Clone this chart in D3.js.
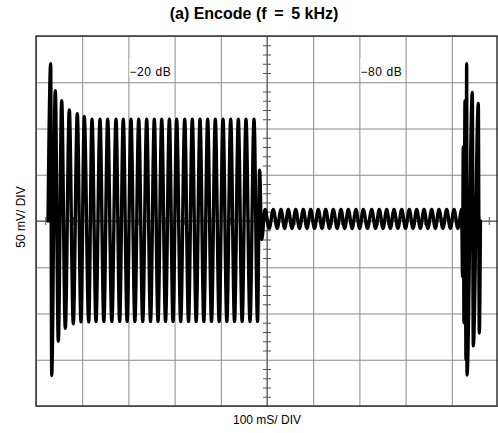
<!DOCTYPE html>
<html lang="en"><head>
<meta charset="utf-8"/>
<title>(a) Encode (f = 5 kHz)</title>
<script src="https://cdn.jsdelivr.net/npm/d3@7/dist/d3.min.js"></script>
<style>
    body { margin: 0; padding: 0; background: #fff; width: 498px; height: 433px; overflow: hidden; }
    svg { display: block; }
    .title { font-family: "Liberation Sans", Arial, sans-serif; font-weight: bold; font-size: 16px; }
    .lbl { font-family: "Liberation Sans", Arial, sans-serif; font-size: 12px; }
    .lvl { font-family: "Liberation Sans", Arial, sans-serif; font-size: 12px; letter-spacing: 0.6px; }
</style>
</head>
<body>
<div id="chart"></div>
<script>
    // scope settings
    const gridTimes = [0, 100, 200, 300, 400, 500, 600, 700, 800, 900, 1000];   // ms, 100 mS/DIV
    const gridVolts = [-200, -150, -100, -50, 0, 50, 100, 150, 200];           // mV, 50 mV/DIV
    const minorTimes = [20, 40, 60, 80, 120, 140, 160, 180, 220, 240, 260, 280, 320, 340, 360, 380,
                        420, 440, 460, 480, 520, 540, 560, 580, 620, 640, 660, 680, 720, 740, 760, 780,
                        820, 840, 860, 880, 920, 940, 960, 980];
    const minorVolts = [-190, -180, -170, -160, -140, -130, -120, -110, -90, -80, -70, -60, -40, -30, -20, -10,
                        10, 20, 30, 40, 60, 70, 80, 90, 110, 120, 130, 140, 160, 170, 180, 190];

    // level annotations
    const levelLabels = ["\u221220 dB", "\u221280 dB"];
    const levelTimes = [200, 700];

    // trace extremes read from the screen (time ms, level mV)
    // onset of the -20 dB burst
    const onsetT = [26, 31.8, 34, 41.8, 48.3, 55.6, 63.4, 72.1, 80.7, 89.4, 97.4, 104.5, 114.1];
    const onsetV = [0, 170, -167, 141, -130, 130, -116, 120, -111, 116, -109, 113, -109];
    // steady -20 dB burst: peaks and troughs
    const burstTopT = [121.2, 138.5, 155.2, 173.2, 188.9, 205.6, 222.3, 239.6, 256.1, 272.1, 288.7,
                       304.5, 321.9, 338.3, 355.0, 371.6, 388.1, 404.8, 421.4, 437.9, 454.5, 471.9];
    const burstBotT = [129.9, 146.9, 164.2, 181.1, 197.3, 214.0, 231.0, 247.9, 264.1, 280.4, 296.6,
                       313.2, 330.1, 346.7, 363.3, 379.9, 396.5, 413.1, 429.7, 446.2, 463.2, 479.5];
    const burstTopV = 110;
    const burstBotV = -108.5;
    // settling into the -80 dB tone
    const settleT = [484, 488.5];
    const settleV = [55, -20];
    // -80 dB tone: peaks and troughs
    const toneTopT = [495.7, 513.6, 530.3, 546.1, 562.1, 578.6, 594.6, 611.0, 627.1, 643.5, 660.2, 676.0,
                      692.6, 708.4, 726.6, 743.1, 759.1, 774.9, 791.6, 808.0, 824.0, 839.8, 856.5, 872.3,
                      889.0, 904.8, 921.4];
    const toneBotT = [504.7, 522.0, 538.2, 554.1, 570.4, 586.6, 602.8, 619.1, 635.3, 651.9, 668.1, 684.3,
                      700.5, 717.5, 734.9, 751.1, 767.0, 783.3, 799.8, 816.0, 831.9, 848.2, 864.4, 880.7,
                      896.9, 913.1];
    const toneTopV = 12.4;
    const toneBotV = -8.1;
    // next -20 dB burst onset at the right edge
    const tailT = [923.2, 924.9, 926.4, 928.6, 930.7, 932.2, 932.9, 944.4, 946.5, 957.4, 959.5, 962];
    const tailV = [-60, 80, -110, 130, -150, 170, -166.5, 139, -135, 127, -121, 0];

    // build the trace in time order
    const trace = [];
    onsetT.forEach((t, i) => trace.push([t, onsetV[i]]));
    burstTopT.forEach((t, i) => {
        trace.push([t, burstTopV]);
        trace.push([burstBotT[i], burstBotV]);
    });
    settleT.forEach((t, i) => trace.push([t, settleV[i]]));
    toneTopT.forEach((t, i) => {
        trace.push([t, toneTopV]);
        if (i < toneBotT.length) trace.push([toneBotT[i], toneBotV]);
    });
    tailT.forEach((t, i) => trace.push([t, tailV[i]]));

    const W = 498, H = 433;
    const pL = 36, pR = 498, pT = 36, pB = 406;

    const svg = d3.select("#chart").append("svg")
        .attr("width", W)
        .attr("height", H);

    const x = d3.scaleLinear().domain([0, 1000]).range([pL, pR]);
    const y = d3.scaleLinear().domain([-200, 200]).range([pB, pT]);

    // title
    svg.append("text")
        .attr("class", "title")
        .attr("x", 254)
        .attr("y", 19)
        .attr("text-anchor", "middle")
        .attr("fill", "#000")
        .text("(a) Encode (f \u2009=\u2009 5 kHz)");

    // grid
    svg.append("g")
        .attr("transform", `translate(0,${pB})`)
        .call(d3.axisBottom(x).tickValues(gridTimes).tickSize(-(pB - pT)).tickFormat(""))
        .call(g => g.select(".domain").remove())
        .call(g => g.selectAll("line").attr("stroke", "#8a8a8a").attr("stroke-width", 1));

    svg.append("g")
        .attr("transform", `translate(${pL},0)`)
        .call(d3.axisLeft(y).tickValues(gridVolts).tickSize(-(pR - pL)).tickFormat(""))
        .call(g => g.select(".domain").remove())
        .call(g => g.selectAll("line").attr("stroke", "#8a8a8a").attr("stroke-width", 1));

    // centre axes with minor ticks
    const cx = x(500), cy = y(0);
    [d3.axisLeft, d3.axisRight].forEach(ax => {
        svg.append("g")
            .attr("transform", `translate(${cx},0)`)
            .call(ax(y).tickValues(minorVolts).tickSize(4).tickFormat(""))
            .call(g => g.select(".domain").remove())
            .call(g => g.selectAll("line").attr("stroke", "#555"));
    });
    [d3.axisTop, d3.axisBottom].forEach(ax => {
        svg.append("g")
            .attr("transform", `translate(0,${cy})`)
            .call(ax(x).tickValues(minorTimes).tickSize(4).tickFormat(""))
            .call(g => g.select(".domain").remove())
            .call(g => g.selectAll("line").attr("stroke", "#555"));
    });
    svg.append("line")
        .attr("x1", cx).attr("x2", cx).attr("y1", pT).attr("y2", pB)
        .attr("stroke", "#555");
    svg.append("line")
        .attr("x1", pL).attr("x2", pR).attr("y1", cy).attr("y2", cy)
        .attr("stroke", "#555");

    // frame
    svg.append("rect")
        .attr("x", pL).attr("y", pT)
        .attr("width", pR - pL - 1).attr("height", pB - pT)
        .attr("fill", "none")
        .attr("stroke", "#333")
        .attr("stroke-width", 1.5);

    // level labels on white patches
    levelTimes.forEach((t, i) => {
        const g = svg.append("g");
        g.append("rect")
            .attr("x", x(t) + 1).attr("y", 58)
            .attr("width", 44).attr("height", 19)
            .attr("fill", "#fff");
        g.append("text")
            .attr("class", "lvl")
            .attr("x", x(t) + 1)
            .attr("y", 76)
            .attr("fill", "#000")
            .text(levelLabels[i]);
    });

    // trace
    const line = d3.line()
        .x(d => x(d[0]))
        .y(d => y(d[1]))
        .curve(d3.curveMonotoneX);

    svg.append("path")
        .datum(trace)
        .attr("d", line)
        .attr("fill", "none")
        .attr("stroke", "#000")
        .attr("stroke-width", 3.4)
        .attr("stroke-linejoin", "round")
        .attr("stroke-linecap", "round");

    // axis captions
    svg.append("text")
        .attr("class", "lbl")
        .attr("x", x(500))
        .attr("y", 424)
        .attr("text-anchor", "middle")
        .text("100 mS/ DIV");

    svg.append("text")
        .attr("class", "lbl")
        .attr("transform", `translate(25,${y(0) - 4}) rotate(-90)`)
        .attr("text-anchor", "middle")
        .text("50 mV/ DIV");
</script>
</body></html>
